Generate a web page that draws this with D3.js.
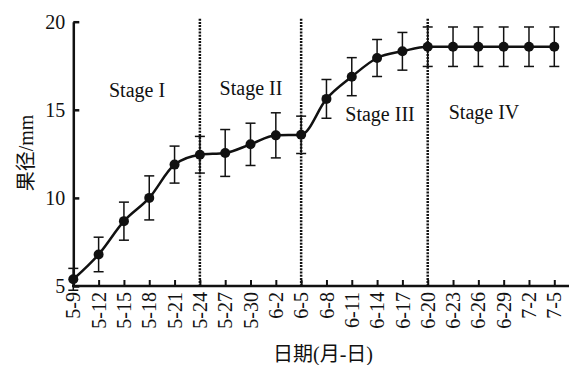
<!DOCTYPE html>
<html><head><meta charset="utf-8">
<script src="https://cdn.jsdelivr.net/npm/d3@7"></script>
<style>
body{margin:0;background:#fff;}
text{font-family:"Liberation Serif","Times New Roman","Noto Sans CJK SC",serif;fill:#111;}
</style></head>
<body><svg id="c" width="569" height="365"></svg>
<script>
const dates = ["5-9","5-12","5-15","5-18","5-21","5-24","5-27","5-30","6-2","6-5","6-8","6-11","6-14","6-17","6-20","6-23","6-26","6-29","7-2","7-5"];
const meanValues = [5.38,6.79,8.68,10.0,11.89,12.45,12.55,13.04,13.55,13.58,15.62,16.88,17.94,18.32,18.58,18.58,18.58,18.58,18.58,18.58];
const errValues = [0.62,0.98,1.08,1.25,1.05,1.04,1.33,1.2,1.28,1.06,1.1,1.08,1.05,1.07,1.12,1.12,1.12,1.12,1.12,1.12];
const yTicks = [5,10,15,20];
const stageDates = ["5-24","6-5","6-20"];
const stageLabels = ["Stage I","Stage II","Stage III","Stage IV"];
const yTitle = "果径/mm";
const xTitle = "日期(月-日)";

const svg = d3.select("#c");
const x = d3.scalePoint().domain(dates).range([73.3, 554.3]);
const y = d3.scaleLinear().domain([5,20]).range([286, 21.7]);
const ink = "#111";

// stage dividers
svg.append("g").selectAll("line").data(stageDates).join("line")
  .attr("x1", d=>x(d)).attr("x2", d=>x(d))
  .attr("y1", y(20)-3).attr("y2", y(5))
  .attr("stroke", ink).attr("stroke-width", 2.5).attr("stroke-dasharray","2,1.2");

// axes
const yAxis = svg.append("g").attr("transform","translate(73.3,0)")
  .call(d3.axisLeft(y).tickValues(yTicks).tickSizeInner(-6).tickSizeOuter(0).tickPadding(8).tickFormat(d3.format("d")));
yAxis.select(".domain").attr("stroke", ink).attr("stroke-width", 2.5);
yAxis.selectAll(".tick line").attr("stroke", ink).attr("stroke-width", 2.5);
yAxis.selectAll("text").attr("font-size", 20).style("fill", ink);

const xAxis = svg.append("g").attr("transform","translate(0,286)")
  .call(d3.axisBottom(x).tickSizeInner(-6).tickSizeOuter(0).tickPadding(6));
xAxis.select(".domain").remove();
xAxis.append("line").attr("x1", 72).attr("x2", 569).attr("y1",0).attr("y2",0)
  .attr("stroke", ink).attr("stroke-width", 2.5);
xAxis.selectAll(".tick line").attr("stroke", ink).attr("stroke-width", 2);
xAxis.selectAll("text").attr("font-size", 20).style("fill", ink)
  .attr("transform","rotate(-90)").attr("text-anchor","end")
  .attr("x", -6).attr("y", 0).attr("dy","0.33em");

// error bars
const eb = svg.append("g").attr("stroke", ink).attr("stroke-width", 1.5);
dates.forEach((d,i)=>{
  const cx = x(d), t = y(meanValues[i]+errValues[i]), b = y(meanValues[i]-errValues[i]);
  eb.append("line").attr("x1",cx).attr("x2",cx).attr("y1",t).attr("y2",b);
  eb.append("line").attr("x1",cx-5).attr("x2",cx+5).attr("y1",t).attr("y2",t);
  eb.append("line").attr("x1",cx-5).attr("x2",cx+5).attr("y1",b).attr("y2",b);
});

// line
svg.append("path").datum(dates.map((d,i)=>[x(d), y(meanValues[i])]))
  .attr("d", d3.line().curve(d3.curveMonotoneX))
  .attr("fill","none").attr("stroke", ink).attr("stroke-width", 2.5);

// points
svg.append("g").selectAll("circle").data(dates).join("circle")
  .attr("cx", d=>x(d)).attr("cy", (d,i)=>y(meanValues[i])).attr("r", 5).attr("fill", ink);

// stage labels
const stagePos = [[137,97],[251,95],[380,121],[484,119]];
svg.append("g").selectAll("text").data(stageLabels).join("text")
  .attr("x",(d,i)=>stagePos[i][0]).attr("y",(d,i)=>stagePos[i][1])
  .attr("text-anchor","middle").attr("font-size",20).text(d=>d);

// titles
svg.append("text").attr("transform","translate(33,153) rotate(-90)")
  .attr("text-anchor","middle").attr("font-size",20).text(yTitle);
svg.append("text").attr("x",323).attr("y",361)
  .attr("text-anchor","middle").attr("font-size",20).text(xTitle);
</script></body></html>
